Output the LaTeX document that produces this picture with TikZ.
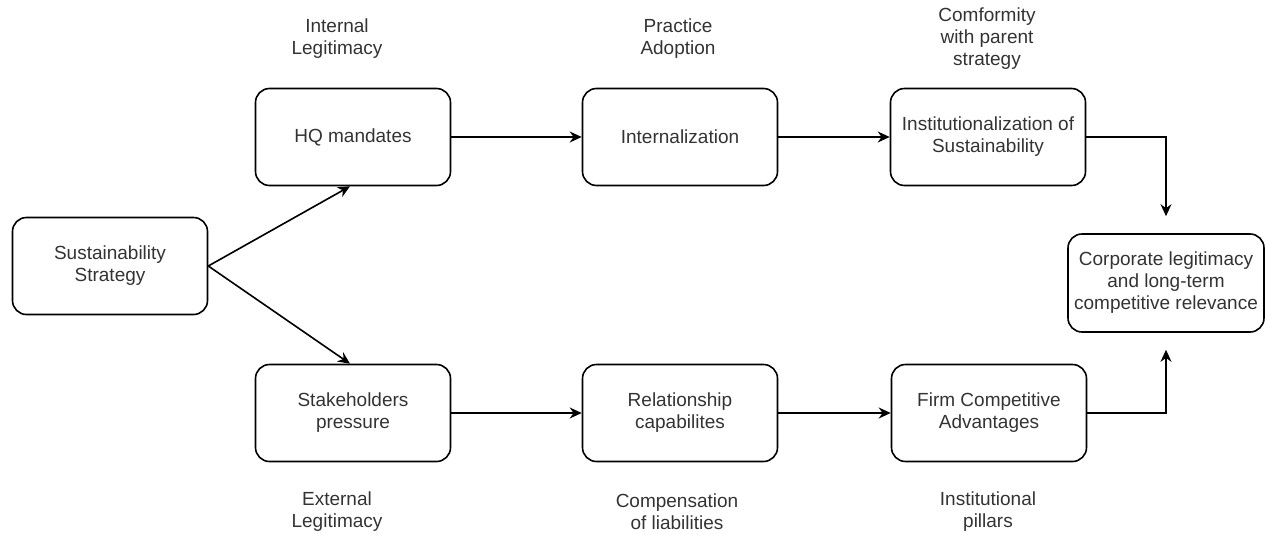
\documentclass[tikz,border=0pt]{standalone}
\usepackage{fontspec}
\setmainfont{Liberation Sans}
\usetikzlibrary{arrows.meta}
\tikzset{
  box/.style={draw, line width=1.6pt, rounded corners=14pt, minimum width=195pt,
    minimum height=97pt, inner sep=2pt, align=center,
    font=\fontsize{19}{22}\selectfont, text=black!80},
  lbl/.style={align=center, font=\fontsize{19}{22}\selectfont, text=black!80},
  arr/.style={-{Stealth[length=12pt,width=11pt]}, line width=1.6pt}
}
\begin{document}
\begin{tikzpicture}[x=1pt,y=-1pt]
  \useasboundingbox (0,0) rectangle (1265,533);
  % boxes
  \node[box] (strategy) at (110,266) {Sustainability\\Strategy};
  \node[box] (hq) at (353,137) {HQ mandates};
  \node[box] (intern) at (680,137) {Internalization};
  \node[box] (instit) at (988,137) {Institutionalization of\\Sustainability};
  \node[box] (stake) at (353,413) {Stakeholders\\pressure};
  \node[box] (relat) at (680,413) {Relationship\\capabilites};
  \node[box] (firm) at (989,413) {Firm Competitive\\Advantages};
  \node[box, minimum width=196pt, minimum height=98pt] (corp) at (1166,283)
    {Corporate legitimacy\\and long-term\\competitive relevance};
  % labels
  \node[lbl] (internal) at (337,39) {Internal\\Legitimacy};
  \node[lbl] (practice) at (678,39) {Practice\\Adoption};
  \node[lbl] (comform) at (987,39) {Comformity\\with parent\\strategy};
  \node[lbl] (external) at (337,512) {External\\Legitimacy};
  \node[lbl] (compens) at (677,512) {Compensation\\of liabilities};
  \node[lbl] (pillars) at (988,512) {Institutional\\pillars};
  % arrows
  \draw[arr] (strategy.east) -- ([xshift=-3pt]hq.south);
  \draw[arr] (strategy.east) -- ([xshift=-3pt]stake.north);
  \draw[arr] (hq) -- (intern);
  \draw[arr] (intern) -- (instit);
  \draw[arr] (stake) -- (relat);
  \draw[arr] (relat) -- (firm);
  \draw[arr, shorten >=17pt] (instit.east) -| (corp.north);
  \draw[arr, shorten >=17pt] (firm.east) -| (corp.south);
\end{tikzpicture}
\end{document}
